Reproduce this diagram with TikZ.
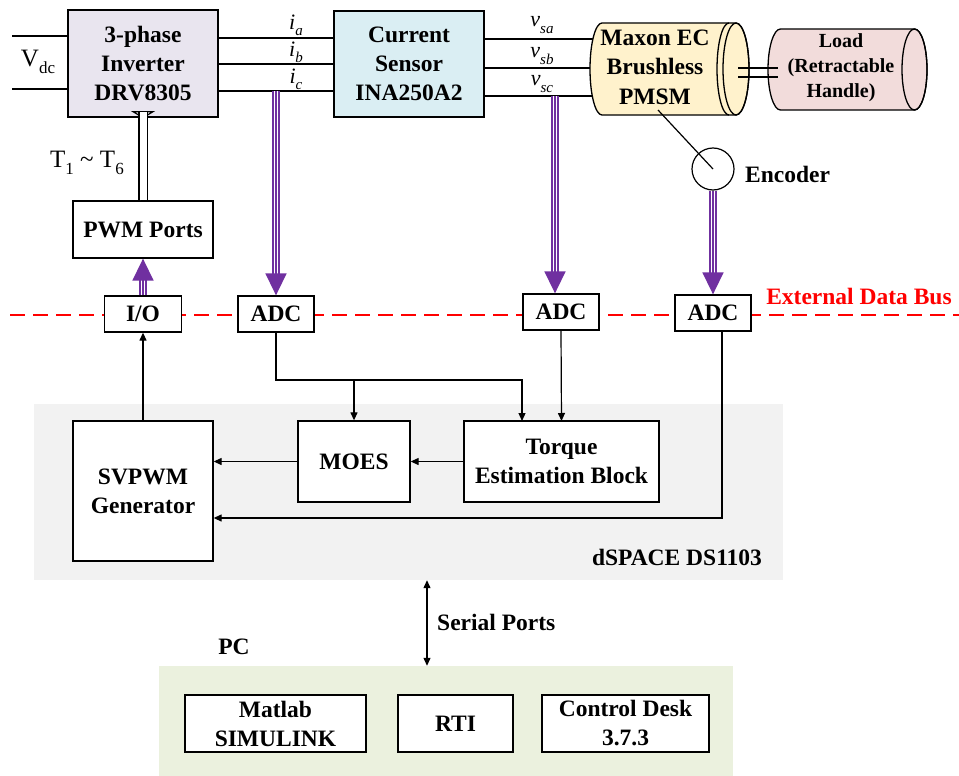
\documentclass[tikz,border=0pt]{standalone}
\usepackage{fontspec}
\setmainfont{Liberation Serif}
\usetikzlibrary{arrows.meta}
\definecolor{invfill}{HTML}{E9E5EF}
\definecolor{csfill}{HTML}{DAEEF3}
\definecolor{motorfill}{HTML}{FFF2CC}
\definecolor{loadfill}{HTML}{F2DCDB}
\definecolor{dspfill}{HTML}{F2F2F2}
\definecolor{pcfill}{HTML}{EBF1DE}
\definecolor{busp}{HTML}{7030A0}
\definecolor{busred}{HTML}{FF0000}
% lowered subscript at a fixed size
\newcommand\lowsub[2][15]{\raisebox{-0.28em}{\fontsize{#1}{#1}\selectfont #2}}
\begin{document}
\begin{tikzpicture}[x=1pt,y=-1pt,
  bold/.style={font=\fontsize{23.5}{29}\selectfont\bfseries, align=center, inner sep=0pt},
  blk/.style={bold, draw, line width=1.3pt, fill=white},
  plain/.style={font=\fontsize{25}{29}\selectfont, inner sep=0pt},
  sym/.style={font=\fontsize{22}{26}\selectfont\itshape, inner sep=0pt},
  sig/.style={line width=1.2pt},
  arr/.style={sig, -{Triangle[length=8pt,width=7pt]}},
  twoway/.style={sig, {Triangle[length=8pt,width=7pt]}-{Triangle[length=8pt,width=7pt]}},
  bus/.style={draw=busp, line width=1.6pt, -{Triangle[length=22pt,width=21pt]},
    preaction={draw=busp, line width=8pt, shorten >=20pt, -},
    preaction={draw=white, line width=4.8pt, shorten >=20pt, -}},
  hollow/.style={line width=1.2pt, double distance=7pt},
  databus/.style={draw=busred, line width=2pt, dash pattern=on 15pt off 8pt}
]
\useasboundingbox (0,0) rectangle (959,776);

% background areas
\node[fill=dspfill, minimum width=749pt, minimum height=176pt, inner sep=0pt] (dsp) at (408.5,492) {};
\node[fill=pcfill, minimum width=574pt, minimum height=110pt, inner sep=0pt] (pc) at (446,721) {};

% external data bus
\coordinate (busL) at (10,315);
\coordinate (busR) at (959,315);
\draw[databus] (busL) -- (busR);
\node[bold, text=busred] (buslabel) at (859,296) {External Data Bus};

% power stage
\node[blk, fill=invfill, minimum width=150pt, minimum height=107pt] (inv) at (143,63.5) {3-phase\\Inverter\\DRV8305};
\node[blk, fill=csfill, minimum width=150pt, minimum height=106pt] (cs) at (409,64) {Current\\Sensor\\INA250A2};
\node[blk, minimum width=140pt, minimum height=57pt] (pwm) at (143,229.5) {PWM Ports};

% DC supply
\coordinate (vdcA) at (12,36);
\coordinate (vdcB) at (12,89);
\draw[sig] (vdcA) -- (vdcA -| inv.west);
\draw[sig] (vdcB) -- (vdcB -| inv.west);
\node[plain] (vdc) at (38,62) {V\lowsub[17]{dc}};

% phase currents
\draw[sig] (inv.east |- 0,38) -- (cs.west |- 0,38);
\draw[sig] (inv.east |- 0,64) -- (cs.west |- 0,64);
\draw[sig] (inv.east |- 0,91) -- (cs.west |- 0,91);
\node[sym] (ia) at (296,25) {i\lowsub{a}};
\node[sym] (ib) at (296,52) {i\lowsub{b}};
\node[sym] (ic) at (296,79) {i\lowsub{c}};

% phase voltages into the motor
\coordinate (mA) at (605,39);
\coordinate (mB) at (605,68);
\coordinate (mC) at (605,96);
\draw[sig] (cs.east |- mA) -- (mA);
\draw[sig] (cs.east |- mB) -- (mB);
\draw[sig] (cs.east |- mC) -- (mC);
\node[sym] (vsa) at (542,25) {v\lowsub{sa}};
\node[sym] (vsb) at (542,56) {v\lowsub{sb}};
\node[sym] (vsc) at (542,84) {v\lowsub{sc}};

% motor cylinder
\path[fill=motorfill, draw, line width=1.3pt] (602,23) -- (736,23)
  arc[start angle=-90, end angle=90, x radius=13, y radius=46] -- (602,115)
  arc[start angle=90, end angle=270, x radius=12, y radius=46] -- cycle;
\draw[line width=1.3pt] (736,69) ellipse[x radius=13, y radius=46];
\draw[line width=1.3pt] (729,23) arc[start angle=270, end angle=90, x radius=12, y radius=46];
\node[bold, font=\fontsize{23.5}{29.5}\selectfont\bfseries] (mlabel) at (655,67) {Maxon EC\\Brushless\\PMSM};

% load cylinder
\path[fill=loadfill, draw, line width=1.3pt] (780.5,29) -- (914.5,29)
  arc[start angle=-90, end angle=90, x radius=12.5, y radius=40.5] -- (780.5,110)
  arc[start angle=90, end angle=270, x radius=12.5, y radius=40.5] -- cycle;
\draw[line width=1.3pt] (914.5,69.5) ellipse[x radius=12.5, y radius=40.5];
\node[bold, font=\fontsize{20}{25}\selectfont\bfseries] (llabel) at (841,68) {Load\\(Retractable\\Handle)};

% shaft
\coordinate (shA1) at (738,68);
\coordinate (shA2) at (778,68);
\coordinate (shB1) at (738,77);
\coordinate (shB2) at (778,77);
\draw[sig] (shA1) -- (shA2);
\draw[sig] (shB1) -- (shB2);

% encoder
\node[draw, circle, line width=1.2pt, minimum size=42pt, inner sep=0pt] (enc) at (713,169) {};
\node[bold, anchor=west] (enclabel) at (745,174) {Encoder};
\coordinate (mtap) at (658,110);
\draw[sig] (mtap) -- (enc.center);

% interface boxes on the bus
\node[blk, minimum width=77pt, minimum height=36pt] (io) at (143,314) {I/O};
\node[blk, minimum width=76pt, minimum height=36pt] (adc1) at (276,314) {ADC};
\node[blk, minimum width=76pt, minimum height=36pt] (adc2) at (561,312) {ADC};
\node[blk, minimum width=76pt, minimum height=36pt] (adc3) at (713,313) {ADC};

% wide signal buses
\draw[bus] (adc1.north |- 0,91) -- (adc1.north);
\draw[bus] (mC -| 555,0) -- (adc2.north -| 555,0);
\draw[bus] (enc.south) -- (adc3.north);
\draw[bus] (io.north) -- (pwm.south);

% gate signals: hollow double arrow with an open head
\coordinate (gbase) at ([yshift=6pt]inv.south);
\draw[line width=1.2pt, fill=white, line join=miter] (inv.south) -- ([xshift=-10pt]gbase) -- ([xshift=10pt]gbase) -- cycle;
\draw[hollow] (pwm.north) -- ([yshift=-0.8pt]gbase);
\node[plain] (tlabel) at (87,163) {T\lowsub[17]{1} \char"7E{} T\lowsub[17]{6}};

% dSPACE blocks
\node[blk, minimum width=140pt, minimum height=140pt] (svpwm) at (143,491) {SVPWM\\Generator};
\node[blk, minimum width=112pt, minimum height=81pt] (moes) at (354,461.5) {MOES};
\node[blk, minimum width=195pt, minimum height=81pt] (torque) at (561.5,461.5) {Torque\\Estimation Block};
\node[bold] (dsplabel) at (677,557) {dSPACE DS1103};

\coordinate (jA) at (276,380);
\coordinate (tqA) at (522,421);
\coordinate (tqB) at (561.5,421);
\coordinate (encBend) at (722,518);
\draw[arr] (svpwm.north) -- (io.south);
\draw[arr] (adc1.south) -- (jA) -| (tqA);
\draw[arr] (moes.north |- jA) -- (moes.north);
\draw[arr] (adc2.south) -- (tqB);
\draw[arr] (torque.west) -- (moes.east);
\draw[arr] (moes.west) -- (moes.west -| svpwm.east);
\draw[arr] (adc3.south -| encBend) -- (encBend) -- (encBend -| svpwm.east);

% host PC
\draw[twoway] (dsp.south -| 427,0) -- (pc.north -| 427,0);
\node[bold, anchor=west] (serial) at (437,622) {Serial Ports};
\node[bold] (pclabel) at (234,647) {PC};
\node[blk, minimum width=181pt, minimum height=57pt] (matlab) at (275.5,723.5) {Matlab\\SIMULINK};
\node[blk, minimum width=115pt, minimum height=57pt] (rti) at (455.5,723.5) {RTI};
\node[blk, minimum width=167pt, minimum height=57pt] (cdesk) at (625.5,723.5) {Control Desk\\3.7.3};
\end{tikzpicture}
\end{document}
